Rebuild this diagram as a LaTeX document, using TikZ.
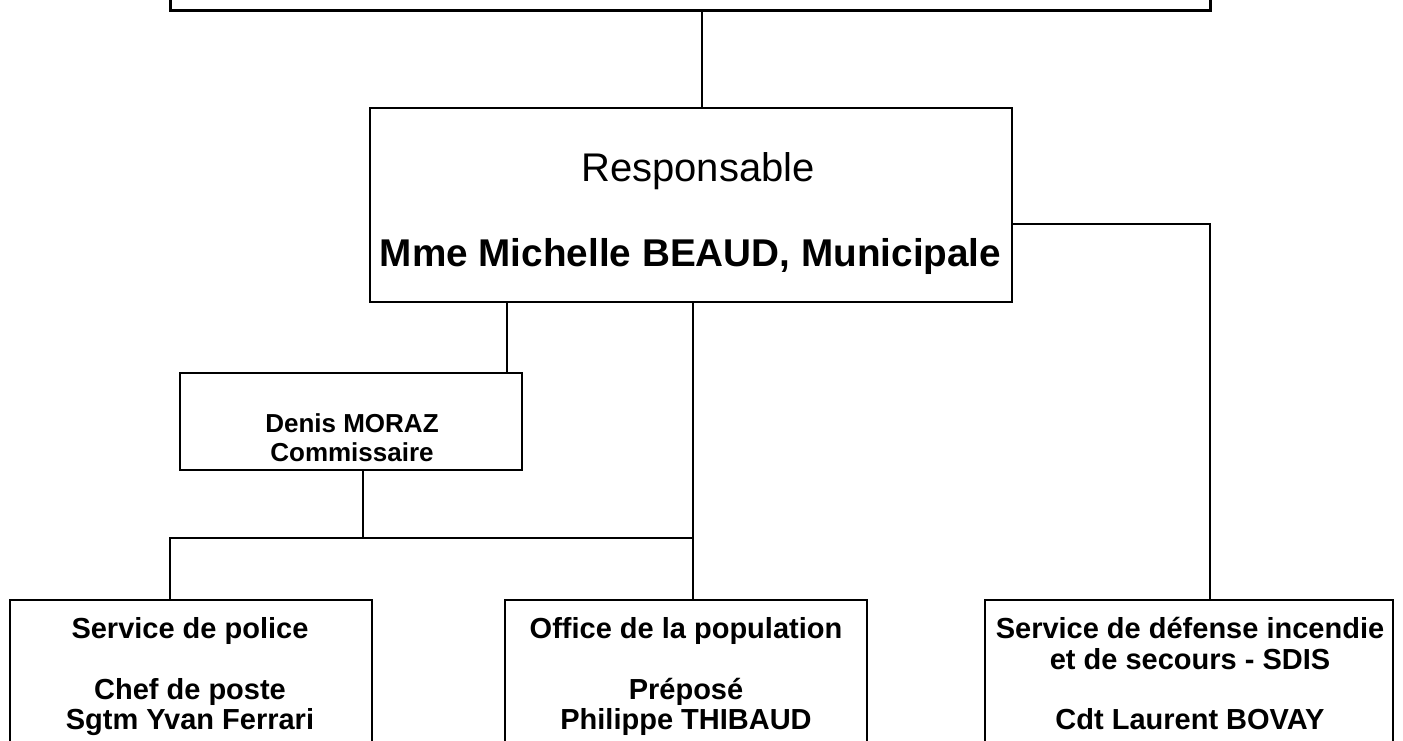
\documentclass[tikz,border=0pt]{standalone}
\usepackage{fontspec}
\setmainfont{Liberation Sans}
\begin{document}
\begin{tikzpicture}[x=1pt,y=-1pt,
  box/.style={draw=black,line width=2.5pt,fill=white,rectangle,inner sep=0pt},
  conn/.style={draw=black,line width=1.8pt},
  txt/.style={inner sep=0pt,align=center,anchor=base},
  big/.style={txt,font=\fontsize{40}{48}\selectfont},
  bigb/.style={txt,font=\fontsize{38.7}{46}\selectfont\bfseries},
  mid/.style={txt,font=\fontsize{29}{30}\selectfont\bfseries},
  small/.style={txt,font=\fontsize{26}{29.3}\selectfont\bfseries}]
\useasboundingbox (0,0) rectangle (1403,740);
\clip (0,0) rectangle (1403,740);
% connectors
\coordinate (topj) at (702,10);
\coordinate (respT) at (702,108);
\coordinate (respR) at (1012,224);
\coordinate (sdisT) at (1210,600);
\coordinate (respB1) at (507,302);
\coordinate (denT) at (507,373);
\coordinate (respB2) at (693,302);
\coordinate (offT) at (693,600);
\coordinate (denB) at (363,470);
\coordinate (hj) at (363,538);
\coordinate (hjR) at (693,538);
\coordinate (polT) at (170,600);
\draw[conn] (topj) -- (respT);
\draw[conn] (respR) -| (sdisT);
\draw[conn] (respB1) -- (denT);
\draw[conn] (respB2) -- (offT);
\draw[conn] (denB) -- (hj);
\draw[conn] (hjR) -| (polT);
% boxes
\node[box,line width=3pt,minimum width=1040pt,minimum height=80pt] (top) at (690,-30) {};
\node[box,minimum width=642pt,minimum height=194pt] (resp) at (691,205) {};
\node[big] (t1) at (698,181) {Responsable};
\node[bigb] (t2) at (690.5,266) {Mme Michelle BEAUD, Municipale};
\node[box,minimum width=342pt,minimum height=97pt] (den) at (351,421.5) {};
\node[small] (t3) at (352,432) {Denis MORAZ};
\node[small] (t4) at (352,461) {Commissaire};
\node[box,minimum width=362pt,minimum height=180pt] (pol) at (191,690) {};
\node[mid] (p1) at (190,638) {Service de police};
\node[mid] (p2) at (190,699) {Chef de poste};
\node[mid] (p3) at (190,729) {Sgtm Yvan Ferrari};
\node[box,minimum width=362pt,minimum height=180pt] (off) at (686,690) {};
\node[mid] (o1) at (686,638) {Office de la population};
\node[mid] (o2) at (686,699) {Préposé};
\node[mid] (o3) at (686,729) {Philippe THIBAUD};
\node[box,minimum width=408pt,minimum height=180pt] (sdis) at (1189,690) {};
\node[mid] (s1) at (1190,638) {Service de défense incendie};
\node[mid] (s2) at (1190,669) {et de secours - SDIS};
\node[mid] (s3) at (1190,729) {Cdt Laurent BOVAY};
\end{tikzpicture}
\end{document}
